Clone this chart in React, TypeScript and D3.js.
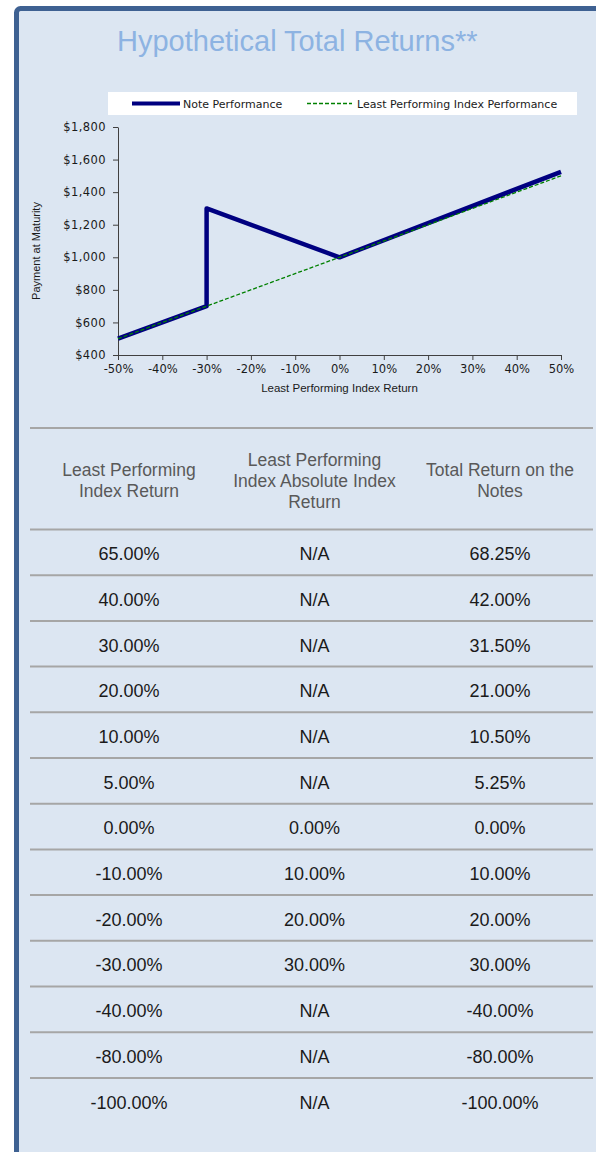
import { useRef, useEffect } from 'react'
import * as d3 from 'd3'

// chart series
const noteX = [-50, -30, -30, 0, 50]
const noteY = [500, 700, 1300, 1000, 1525]
const indexX = [-50, -30, 0, 50]
const indexY = [500, 700, 1000, 1500]
const xTicks = [-50, -40, -30, -20, -10, 0, 10, 20, 30, 40, 50]
const yTicks = [400, 600, 800, 1000, 1200, 1400, 1600, 1800]
const legendLabels = ['Note Performance', 'Least Performing Index Performance']

// table
const headers = [
  ['Least Performing', 'Index Return'],
  ['Least Performing', 'Index Absolute Index', 'Return'],
  ['Total Return on the', 'Notes'],
]
const lpReturn = [65, 40, 30, 20, 10, 5, 0, -10, -20, -30, -40, -80, -100]
const absReturn: (number | null)[] = [null, null, null, null, null, null, 0, 10, 20, 30, null, null, null]
const totalReturn = [68.25, 42, 31.5, 21, 10.5, 5.25, 0, 10, 20, 30, -40, -80, -100]

const W = 596
const H = 1152

export default function App() {
  const svgRef = useRef<SVGSVGElement>(null)

  useEffect(() => {
    if (!svgRef.current) return
    const svg = d3.select(svgRef.current)
    svg.selectAll('*').remove()

    svg.append('rect').attr('width', W).attr('height', H).attr('fill', '#ffffff')
    // panel
    svg.append('rect')
      .attr('x', 16.5).attr('y', 8.5)
      .attr('width', W + 40).attr('height', H + 40)
      .attr('rx', 4)
      .attr('fill', '#dce6f2')
      .attr('stroke', '#3e6192')
      .attr('stroke-width', 5)

    svg.append('text')
      .attr('x', 117).attr('y', 51)
      .attr('font-family', 'Arial, "Liberation Sans", sans-serif')
      .attr('font-size', 29)
      .attr('fill', '#8db3e2')
      .text('Hypothetical Total Returns**')

    // legend
    const lg = svg.append('g')
    lg.append('rect').attr('x', 108).attr('y', 92).attr('width', 469).attr('height', 23).attr('fill', '#ffffff')
    lg.append('line').attr('x1', 132).attr('x2', 180).attr('y1', 103.5).attr('y2', 103.5)
      .attr('stroke', '#000080').attr('stroke-width', 4)
    lg.append('line').attr('x1', 307).attr('x2', 352).attr('y1', 103.5).attr('y2', 103.5)
      .attr('stroke', '#008000').attr('stroke-width', 1.3).attr('stroke-dasharray', '4,2')
    const legendX = [183, 357]
    legendLabels.forEach((l, i) => {
      lg.append('text')
        .attr('x', legendX[i]).attr('y', 107.5)
        .attr('font-family', '"DejaVu Sans", Verdana, sans-serif')
        .attr('font-size', 11)
        .attr('fill', '#1a1a1a')
        .text(l)
    })

    // plot
    const x = d3.scaleLinear().domain([-50, 50]).range([118, 561])
    const y = d3.scaleLinear().domain([400, 1800]).range([355, 127])

    const tickFont = '"DejaVu Sans", Verdana, sans-serif'
    const xAxis = svg.append('g')
      .attr('transform', `translate(0,${y(400)})`)
      .call(d3.axisBottom(x).tickValues(xTicks).tickSize(5).tickSizeOuter(0).tickFormat(d => `${d}%`))
    const yAxis = svg.append('g')
      .attr('transform', `translate(${x(-50)},0)`)
      .call(d3.axisLeft(y).tickValues(yTicks).tickSize(5).tickSizeOuter(0).tickFormat(d => d3.format('$,')(d as number)))
    ;[xAxis, yAxis].forEach(a => {
      a.select('.domain').attr('stroke', '#404040')
      a.selectAll('.tick line').attr('stroke', '#404040')
      a.selectAll('.tick text')
        .attr('font-family', tickFont)
        .attr('font-size', 11.5)
        .attr('fill', '#1a1a1a')
    })
    xAxis.selectAll('.tick text').attr('dy', '0.9em')
    yAxis.selectAll('.tick text').attr('x', -12).attr('letter-spacing', 0.4)

    svg.append('text')
      .attr('x', x(0)).attr('y', 392)
      .attr('text-anchor', 'middle')
      .attr('font-family', 'Arial, "Liberation Sans", sans-serif')
      .attr('font-size', 11.5)
      .attr('fill', '#1a1a1a')
      .text('Least Performing Index Return')

    svg.append('text')
      .attr('transform', `translate(40,${(y(400) + y(1800)) / 2 + 10}) rotate(-90)`)
      .attr('text-anchor', 'middle')
      .attr('font-family', 'Arial, "Liberation Sans", sans-serif')
      .attr('font-size', 11)
      .attr('fill', '#1a1a1a')
      .text('Payment at Maturity')

    const line = d3.line<number>()
    svg.append('path')
      .attr('d', line(noteX.map((v, i) => [x(v), y(noteY[i])])))
      .attr('fill', 'none')
      .attr('stroke', '#000080')
      .attr('stroke-width', 4.5)
      .attr('stroke-linejoin', 'round')
    svg.append('path')
      .attr('d', line(indexX.map((v, i) => [x(v), y(indexY[i])])))
      .attr('fill', 'none')
      .attr('stroke', '#008000')
      .attr('stroke-width', 1.3)
      .attr('stroke-dasharray', '4,2')

    // table
    const col = d3.scaleBand<number>().domain([0, 1, 2]).range([36.25, 592.75])
    const cx = (i: number) => (col(i) as number) + col.bandwidth() / 2
    const rowY = d3.scaleLinear().domain([0, lpReturn.length]).range([529.5, 529.5 + 45.7 * lpReturn.length])
    const tableFont = 'Arial, "Liberation Sans", sans-serif'

    const lineYs = [428, ...d3.range(0, lpReturn.length).map(i => rowY(i))]
    svg.append('g').selectAll('line').data(lineYs).join('line')
      .attr('x1', 30).attr('x2', 593)
      .attr('y1', d => d).attr('y2', d => d)
      .attr('stroke', '#a6a6a6').attr('stroke-width', 2)

    headers.forEach((h, i) => {
      const lh = 21
      const top = 480.5 - ((h.length - 1) * lh) / 2
      h.forEach((t, j) => {
        svg.append('text')
          .attr('x', cx(i)).attr('y', top + j * lh)
          .attr('dy', '0.35em')
          .attr('text-anchor', 'middle')
          .attr('font-family', tableFont)
          .attr('font-size', 17.5)
          .attr('fill', '#595959')
          .text(t)
      })
    })

    const fmt = (v: number | null) => (v === null ? 'N/A' : `${v.toFixed(2)}%`)
    const rows = lpReturn.map((v, i) => [fmt(v), fmt(absReturn[i]), fmt(totalReturn[i])])
    rows.forEach((r, i) => {
      r.forEach((t, j) => {
        svg.append('text')
          .attr('x', cx(j)).attr('y', (rowY(i) + rowY(i + 1)) / 2 + 1.5)
          .attr('dy', '0.35em')
          .attr('text-anchor', 'middle')
          .attr('font-family', tableFont)
          .attr('font-size', 18)
          .attr('fill', '#1a1a1a')
          .text(t)
      })
    })
  }, [])

  return (
    <svg
      ref={svgRef}
      width={W}
      height={H}
      style={{ position: 'absolute', left: 0, top: 0, display: 'block' }}
    />
  )
}
